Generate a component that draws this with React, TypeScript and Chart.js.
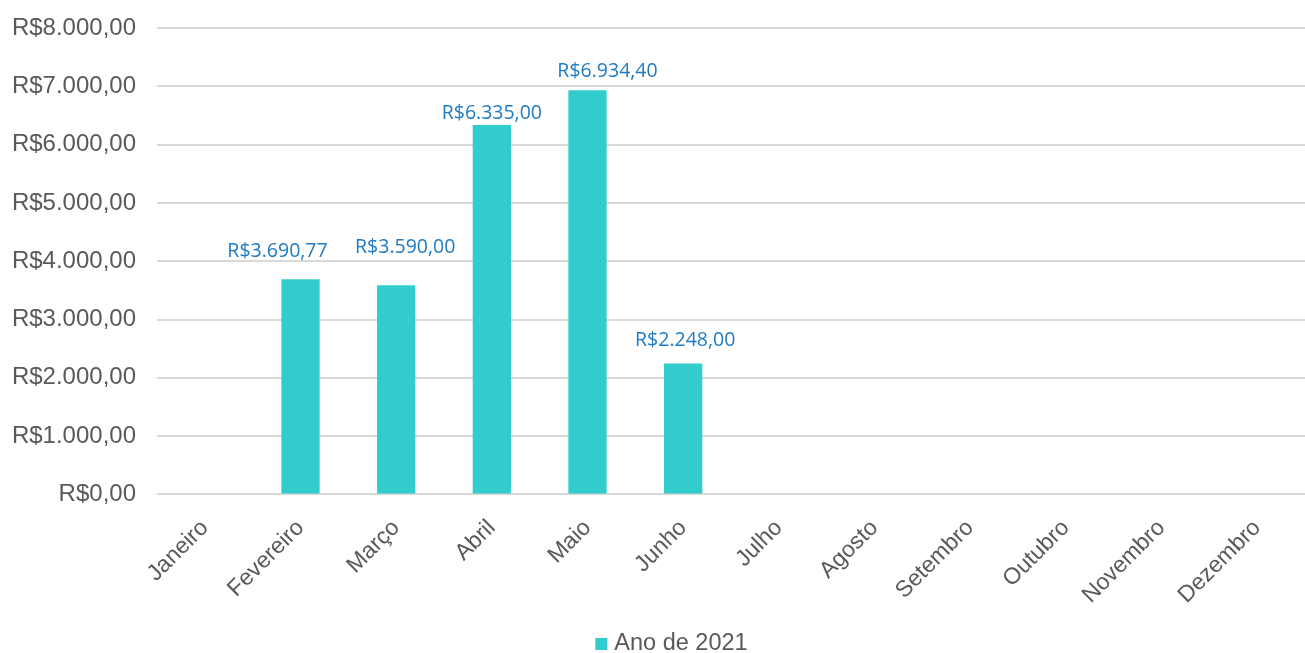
import React, { useEffect, useRef } from "react";
import { Chart, registerables } from "chart.js";

Chart.register(...registerables);

const months = [
  "Janeiro", "Fevereiro", "Março", "Abril", "Maio", "Junho",
  "Julho", "Agosto", "Setembro", "Outubro", "Novembro", "Dezembro",
];
const seriesLabel = "Ano de 2021";
const values: (number | null)[] = [null, 3690.77, 3590.0, 6335.0, 6934.4, 2248.0, null, null, null, null, null, null];

const BAR_COLOR = "#33CCCC";
const TEXT_COLOR = "#595959";

const fmt = (v: number) =>
  "R$" + v.toLocaleString("pt-BR", { minimumFractionDigits: 2, maximumFractionDigits: 2 });

// manual nudges of the data labels relative to each bar top (as placed in the original)
const labelNudges: [number, number][] = [
  [0, 0], [-23, 22], [9, 32], [0, 6], [20, 13], [2, 17],
  [0, 0], [0, 0], [0, 0], [0, 0], [0, 0], [0, 0],
];

const dataLabelPlugin = {
  id: "dataLabels",
  afterDatasetsDraw(chart: any) {
    const ctx = chart.ctx;
    const meta = chart.getDatasetMeta(0);
    ctx.save();
    ctx.font = '19.5px "Open Sans", "Noto Sans", sans-serif';
    ctx.fillStyle = "#1F7BC1";
    ctx.textAlign = "center";
    ctx.textBaseline = "alphabetic";
    meta.data.forEach((bar: any, i: number) => {
      const v = values[i];
      if (v == null) return;
      const [dx, gap] = labelNudges[i];
      ctx.fillText(fmt(v), bar.x + dx, bar.y - gap);
    });
    ctx.restore();
  },
};

// legend drawn below the chart, centred slightly right of the canvas centre as in the original
const bottomLegendPlugin = {
  id: "bottomLegend",
  afterDraw(chart: any) {
    const ctx = chart.ctx;
    ctx.save();
    ctx.font = '23.5px "Liberation Sans", Arial, sans-serif';
    const textW = ctx.measureText(seriesLabel).width;
    const box = 12;
    const gap = 7;
    const total = box + gap + textW;
    const cx = chart.width / 2 + 19;
    const x0 = cx - total / 2;
    const baseline = chart.height - 3;
    ctx.fillStyle = BAR_COLOR;
    ctx.fillRect(x0, baseline - 12, box, box);
    ctx.fillStyle = TEXT_COLOR;
    ctx.textAlign = "left";
    ctx.textBaseline = "alphabetic";
    ctx.fillText(seriesLabel, x0 + box + gap, baseline);
    ctx.restore();
  },
};

export default function App() {
  const ref = useRef<HTMLCanvasElement>(null);
  useEffect(() => {
    document.body.style.margin = "0";
    const chart = new Chart(ref.current!, {
      type: "bar",
      data: {
        labels: months,
        datasets: [
          {
            label: seriesLabel,
            data: values,
            backgroundColor: BAR_COLOR,
            categoryPercentage: 1,
            barPercentage: 0.4,
          },
        ],
      },
      options: {
        animation: false,
        responsive: false,
        maintainAspectRatio: false,
        layout: { padding: { top: 28, right: 0, left: 0, bottom: 32 } },
        plugins: {
          legend: { display: false },
          tooltip: { enabled: false },
        },
        scales: {
          x: {
            grid: { display: false },
            border: { display: false },
            afterFit: (scale: any) => {
              scale.paddingLeft = 0;
            },
            ticks: {
              color: TEXT_COLOR,
              font: { family: '"Liberation Sans", Arial, sans-serif', size: 23 },
              minRotation: 45,
              maxRotation: 45,
              padding: 12,
            },
          },
          y: {
            min: 0,
            max: 8000,
            afterFit: (scale: any) => {
              scale.width = 157;
              scale.paddingTop = 0;
              scale.paddingBottom = 0;
            },
            ticks: {
              stepSize: 1000,
              color: TEXT_COLOR,
              padding: 21,
              font: { family: '"Liberation Sans", Arial, sans-serif', size: 24 },
              callback: (v: any) => fmt(Number(v)),
            },
            grid: { color: "#D9D9D9", lineWidth: 2, drawTicks: false },
            border: { display: false },
          },
        },
      },
      plugins: [dataLabelPlugin, bottomLegendPlugin],
    });
    return () => chart.destroy();
  }, []);
  return (
    <div style={{ position: "absolute", left: 0, top: 0, width: 1305, height: 653 }}>
      <canvas ref={ref} width={1305} height={653} />
    </div>
  );
}
